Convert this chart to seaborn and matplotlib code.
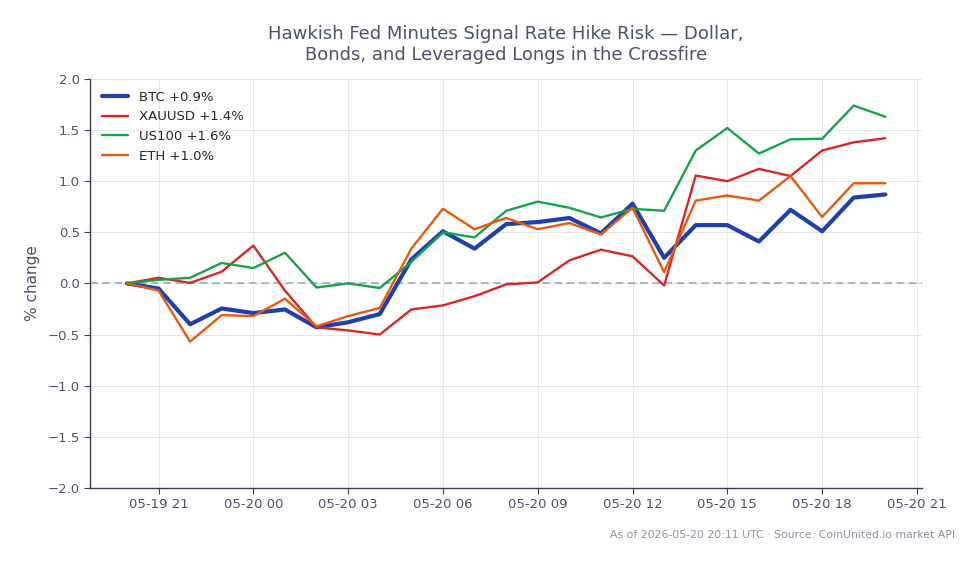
import pandas as pd
import numpy as np
import matplotlib
matplotlib.use("Agg")
import matplotlib.pyplot as plt
import matplotlib.dates as mdates
import seaborn as sns

# hourly timestamps, 05-19 20:00 -> 05-20 20:00 UTC
times = pd.date_range("2026-05-19 20:00", "2026-05-20 20:00", freq="h")

btc = [0.00, -0.05, -0.40, -0.245, -0.29, -0.255, -0.43, -0.38, -0.30, 0.235,
       0.51, 0.34, 0.58, 0.60, 0.64, 0.49, 0.78, 0.25, 0.57, 0.57,
       0.41, 0.72, 0.51, 0.84, 0.87]
xauusd = [0.00, 0.055, 0.005, 0.115, 0.37, -0.07, -0.43, -0.46, -0.50, -0.255,
          -0.215, -0.125, -0.01, 0.01, 0.225, 0.33, 0.265, -0.02, 1.055, 1.00,
          1.12, 1.05, 1.30, 1.38, 1.42]
us100 = [0.00, 0.035, 0.055, 0.20, 0.15, 0.30, -0.04, 0.00, -0.045, 0.21,
         0.50, 0.45, 0.71, 0.80, 0.74, 0.645, 0.73, 0.71, 1.30, 1.52,
         1.27, 1.41, 1.415, 1.74, 1.63]
eth = [0.00, -0.07, -0.57, -0.31, -0.32, -0.15, -0.42, -0.32, -0.24, 0.34,
       0.73, 0.53, 0.64, 0.53, 0.59, 0.48, 0.74, 0.11, 0.81, 0.86,
       0.81, 1.05, 0.65, 0.98, 0.98]

series = {"BTC": btc, "XAUUSD": xauusd, "US100": us100, "ETH": eth}
colors = {"BTC": "#1e40af", "XAUUSD": "#dc2626", "US100": "#16a34a", "ETH": "#ea580c"}
widths = {"BTC": 3.0, "XAUUSD": 1.7, "US100": 1.7, "ETH": 1.7}

rows = []
for name, vals in series.items():
    label = f"{name} {vals[-1]:+.1f}%"
    for t, v in zip(times, vals):
        rows.append({"time": t, "pct": v, "asset": label})
df = pd.DataFrame(rows)

sns.set_style("whitegrid")
plt.rcParams["font.family"] = ["DejaVu Sans"]

fig = plt.figure(figsize=(9.79, 5.64), dpi=100)
ax = fig.add_axes([0.092, 0.135, 0.85, 0.725])

labels = list(df["asset"].unique())
palette = {lab: colors[lab.split()[0]] for lab in labels}
sns.lineplot(data=df, x="time", y="pct", hue="asset", palette=palette, ax=ax,
             legend=True)
for line, lab in zip(ax.get_lines(), labels):
    line.set_linewidth(widths[lab.split()[0]])

ax.axhline(0, color="#94a3b8", lw=1.1, ls=(0, (5, 3)), zorder=1.5)

ax.set_ylim(-2.0, 2.0)
ax.set_yticks(np.arange(-2.0, 2.01, 0.5))
ax.xaxis.set_major_locator(mdates.HourLocator(byhour=range(0, 24, 3)))
ax.xaxis.set_major_formatter(mdates.DateFormatter("%m-%d %H"))
ax.set_xlim(times[0] - pd.Timedelta(minutes=70), times[-1] + pd.Timedelta(minutes=70))

ax.set_xlabel("")
ax.set_ylabel("% change", fontsize=11, color="#475569", labelpad=5)
ax.set_title("Hawkish Fed Minutes Signal Rate Hike Risk — Dollar,\nBonds, and Leveraged Longs in the Crossfire",
             fontsize=13, color="#475569", pad=14)

ax.grid(True, color="#e5e7eb", lw=0.7)
for s in ["top", "right"]:
    ax.spines[s].set_visible(False)
for s in ["left", "bottom"]:
    ax.spines[s].set_color("#334155")
    ax.spines[s].set_linewidth(1)
ax.tick_params(axis="both", colors="#475569", labelsize=9.5, length=4, left=True, bottom=True)
ax.tick_params(axis="both", color="#334155")

leg = ax.legend(loc="upper left", frameon=False, fontsize=9.5, title=None)
for line, lab in zip(leg.get_lines(), labels):
    line.set_linewidth(widths[lab.split()[0]])

fig.text(0.976, 0.052, "As of 2026-05-20 20:11 UTC · Source: CoinUnited.io market API",
         ha="right", va="center", fontsize=7.8, color="#8a94a3")

fig.savefig("out.png", dpi=100)
